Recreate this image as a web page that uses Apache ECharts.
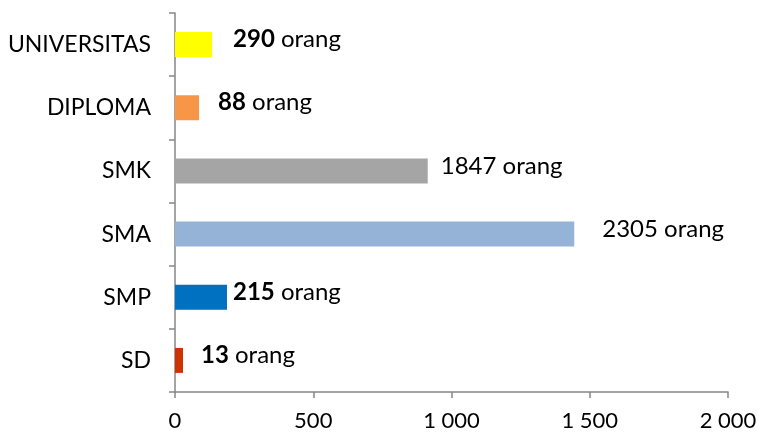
<!DOCTYPE html>
<html>
<head>
<meta charset="utf-8">
<script src="https://cdn.jsdelivr.net/npm/echarts@6/dist/echarts.min.js"></script>
<style>html,body{margin:0;padding:0;background:#fff}#c{width:762px;height:437px}</style>
</head>
<body>
<div id="c"></div>
<script>
// Categories bottom to top
const categories = ['SD', 'SMP', 'SMA', 'SMK', 'DIPLOMA', 'UNIVERSITAS'];
// Bar lengths as drawn in the picture
const barValues = [29, 188, 1444, 914, 87, 134];
// Label texts
const labelNumbers = ['13', '215', '2305', '1847', '88', '290'];
const labelSuffix = ' orang';
const labelBold = [true, true, false, false, true, true];
const xTicks = [0, 500, 1000, 1500, 2000];

// Styles
const barColors = ['#CC3300', '#0070C0', '#95B3D7', '#A5A5A5', '#F79646', '#FFFF00'];
const labelGaps = [18, 6, 28, 13, 19, 21];

const font = 'Lato, "Open Sans", sans-serif';
const chart = echarts.init(document.getElementById('c'));
chart.setOption({
  animation: false,
  grid: { left: 175, right: 34, top: 13, bottom: 45 },
  xAxis: {
    type: 'value', min: xTicks[0], max: xTicks[xTicks.length - 1], interval: 500,
    axisLine: { show: true, lineStyle: { color: '#868686', width: 1.5 } },
    axisTick: { show: true, length: 6, lineStyle: { color: '#868686', width: 1.5 } },
    splitLine: { show: false },
    axisLabel: {
      margin: 18, color: '#000', fontSize: 22, fontFamily: font,
      formatter: v => String(v).replace(/\B(?=(\d{3})+(?!\d))/g, ' ')
    }
  },
  yAxis: {
    type: 'category', data: categories,
    axisLine: { show: true, lineStyle: { color: '#868686', width: 1.5 } },
    axisTick: { show: true, length: 6, lineStyle: { color: '#868686', width: 1.5 } },
    axisLabel: { margin: 24, color: '#000', fontSize: 23, fontFamily: font }
  },
  series: [{
    type: 'bar', barWidth: 25,
    data: barValues.map((v, i) => ({
      value: v,
      itemStyle: { color: barColors[i] },
      label: {
        show: true, position: 'right', distance: labelGaps[i], offset: [0, -5],
        formatter: labelBold[i] ? '{b|' + labelNumbers[i] + '}{n|' + labelSuffix + '}' : '{n|' + labelNumbers[i] + labelSuffix + '}',
        rich: {
          b: { fontWeight: 'bold', fontSize: 24, color: '#000', fontFamily: font },
          n: { fontSize: 24, color: '#000', fontFamily: font }
        }
      }
    }))
  }]
});
</script>
</body>
</html>
